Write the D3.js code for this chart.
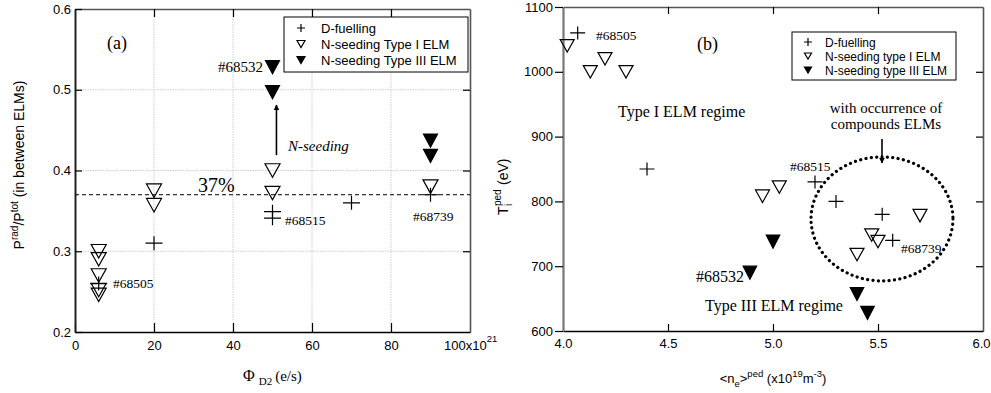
<!DOCTYPE html>
<html><head><meta charset="utf-8">
<script src="https://cdn.jsdelivr.net/npm/d3@7"></script>
<style>body{margin:0;background:#fff}svg{display:block}</style>
</head><body>
<svg id="c" width="991" height="393"></svg>
<script>
// ---- Panel (a): radiated power fraction vs. D2 fuelling rate ----
const aFuelX  = [6, 20, 50, 50, 70, 90];
const aFuelY  = [0.26, 0.31, 0.349, 0.341, 0.36, 0.37];
const aType1X = [6, 6, 6, 6, 6, 20, 20, 50, 50, 90];
const aType1Y = [0.30, 0.29, 0.27, 0.252, 0.246, 0.375, 0.357, 0.40, 0.372, 0.38];
const aType3X = [50, 50, 90, 90];
const aType3Y = [0.528, 0.497, 0.437, 0.418];
const aXTicks = [0, 20, 40, 60, 80];
const aYTicks = [0.2, 0.3, 0.4, 0.5, 0.6];
const aRef = 0.37;

// ---- Panel (b): pedestal ion temperature vs. pedestal density ----
const bFuelX  = [4.07, 4.4, 5.2, 5.3, 5.52, 5.57];
const bFuelY  = [1060, 850, 830, 800, 780, 740];
const bType1X = [4.02, 4.13, 4.2, 4.3, 4.95, 5.03, 5.4, 5.47, 5.5, 5.7];
const bType1Y = [1040, 1000, 1020, 1000, 808, 822, 718, 748, 738, 778];
const bType3X = [4.89, 5.0, 5.4, 5.45];
const bType3Y = [690, 738, 657, 628];
const bXTicks = [4.0, 4.5, 5.0, 5.5, 6.0];
const bYTicks = [600, 700, 800, 900, 1000, 1100];

const svg = d3.select("#c");
const SANS = "'Liberation Sans', Arial, sans-serif";
const SERIF = "'Liberation Serif', 'Times New Roman', serif";

function plus(g, x, y, hw, hh) {
  g.append("path").attr("d", `M${x-hw},${y}H${x+hw}M${x},${y-hh}V${y+hh}`)
    .attr("stroke", "#000").attr("stroke-width", 1.2).attr("fill", "none");
}
function tri(g, x, y, w, h, filled) {
  g.append("path").attr("d", `M${x-w/2},${y-h/2}L${x+w/2},${y-h/2}L${x},${y+h/2}Z`)
    .attr("stroke", "#000").attr("stroke-width", 1.2)
    .attr("fill", filled ? "#000" : "none").attr("stroke-linejoin", "miter");
}
function styleAxis(g, color, width, fontSize) {
  g.selectAll("path.domain").attr("stroke", color).attr("stroke-width", width);
  g.selectAll(".tick line").attr("stroke", "#000").attr("stroke-width", 1.2);
  g.selectAll("text").attr("font-family", SANS).attr("font-size", fontSize).attr("fill", "#000");
}

// ================= Panel (a) =================
const xA = d3.scaleLinear().domain([0, 100]).range([75, 470]);
const yA = d3.scaleLinear().domain([0.2, 0.6]).range([332, 9]);
const gA = svg.append("g");

// grid
gA.append("g").selectAll("line").data([20, 40, 60, 80]).join("line")
  .attr("x1", d => xA(d)).attr("x2", d => xA(d)).attr("y1", yA(0.6)).attr("y2", yA(0.2))
  .attr("stroke", "#cfcfcf").attr("stroke-width", 1).attr("stroke-dasharray", "1.5,1");
gA.append("g").selectAll("line").data([0.3, 0.4, 0.5]).join("line")
  .attr("y1", d => yA(d)).attr("y2", d => yA(d)).attr("x1", xA(0)).attr("x2", xA(100))
  .attr("stroke", "#cfcfcf").attr("stroke-width", 1).attr("stroke-dasharray", "1.5,1");

// frame (top / right) with inward ticks
const aTop = gA.append("g").attr("transform", `translate(0,${yA(0.6)})`)
  .call(d3.axisTop(xA).tickValues([20, 40, 60, 80]).tickSize(-8).tickSizeOuter(0).tickFormat(""));
styleAxis(aTop, "#555", 1.6, 13);
const aRight = gA.append("g").attr("transform", `translate(${xA(100)},0)`)
  .call(d3.axisRight(yA).tickValues([0.3, 0.4, 0.5]).tickSize(-7).tickSizeOuter(0).tickFormat(""));
styleAxis(aRight, "#555", 1.6, 13);

// bottom / left axes
const aBottom = gA.append("g").attr("transform", `translate(0,${yA(0.2)})`)
  .call(d3.axisBottom(xA).tickValues(aXTicks).tickSize(-9).tickSizeOuter(0).tickPadding(9).tickFormat(d => d));
styleAxis(aBottom, "#000", 1.6, 13);
const aLeft = gA.append("g").attr("transform", `translate(${xA(0)},0)`)
  .call(d3.axisLeft(yA).tickValues(aYTicks).tickSize(-7).tickSizeOuter(0).tickPadding(4).tickFormat(d3.format(".1f")));
styleAxis(aLeft, "#222", 2, 13);

// last x tick label with exponent
const t100 = gA.append("text").attr("x", xA(100) - 26).attr("y", 350)
  .attr("font-family", SANS).attr("font-size", 13);
t100.append("tspan").text("100x10");
t100.append("tspan").attr("dy", -8).attr("font-size", 9.5).text("21");

// reference line at 37%
gA.append("line").attr("x1", xA(0)).attr("x2", xA(100)).attr("y1", yA(aRef)).attr("y2", yA(aRef))
  .attr("stroke", "#000").attr("stroke-width", 1).attr("stroke-dasharray", "4,3");
gA.append("text").attr("x", 198).attr("y", 192).attr("font-family", SERIF).attr("font-size", 20).text("37%");

// markers
aFuelX.forEach((x, i) => plus(gA, xA(x), yA(aFuelY[i]), 8.5, 7));
aType1X.forEach((x, i) => tri(gA, xA(x), yA(aType1Y[i]), 15, 13.5, false));
aType3X.forEach((x, i) => tri(gA, xA(x), yA(aType3Y[i]), 14, 13, true));

// N-seeding arrow
const defs = svg.append("defs");
defs.append("marker").attr("id", "ah").attr("viewBox", "0 0 10 10").attr("refX", 9).attr("refY", 5)
  .attr("markerWidth", 6).attr("markerHeight", 6).attr("orient", "auto-start-reverse")
  .attr("markerUnits", "userSpaceOnUse")
  .append("path").attr("d", "M0,0L10,5L0,10Z").attr("fill", "#000");
gA.append("line").attr("x1", xA(51)).attr("x2", xA(51)).attr("y1", yA(0.419)).attr("y2", yA(0.481))
  .attr("stroke", "#000").attr("stroke-width", 1.6).attr("marker-end", "url(#ah)");
gA.append("text").attr("x", 288).attr("y", 151).attr("font-family", SERIF).attr("font-style", "italic")
  .attr("font-size", 15).text("N-seeding");

// annotations
gA.append("text").attr("x", 107).attr("y", 49).attr("font-family", SERIF).attr("font-size", 18).text("(a)");
gA.append("text").attr("x", 263).attr("y", 72).attr("text-anchor", "end").attr("font-family", SERIF).attr("font-size", 15).text("#68532");
gA.append("text").attr("x", 113).attr("y", 288).attr("font-family", SERIF).attr("font-size", 13.5).text("#68505");
gA.append("text").attr("x", 285).attr("y", 225).attr("font-family", SERIF).attr("font-size", 13.5).text("#68515");
gA.append("text").attr("x", 413).attr("y", 221).attr("font-family", SERIF).attr("font-size", 13.5).text("#68739");

// legend (a)
gA.append("rect").attr("x", 284).attr("y", 17).attr("width", 184).attr("height", 55)
  .attr("fill", "#fff").attr("stroke", "#000").attr("stroke-width", 1);
plus(gA, 301, 28, 4, 4);
tri(gA, 301, 44, 8, 7, false);
tri(gA, 301, 60, 8, 7, true);
[["D-fuelling", 28], ["N-seeding Type I ELM", 44], ["N-seeding Type III ELM", 60]].forEach(([t, y]) =>
  gA.append("text").attr("x", 321).attr("y", y + 4.5).attr("font-family", SANS).attr("font-size", 13).text(t));

// axis titles (a)
const yTa = gA.append("text").attr("transform", "translate(24,165) rotate(-90)")
  .attr("text-anchor", "middle").attr("font-family", SANS).attr("font-size", 14);
yTa.append("tspan").text("P");
yTa.append("tspan").attr("dy", -6).attr("font-size", 10).text("rad");
yTa.append("tspan").attr("dy", 6).text("/P");
yTa.append("tspan").attr("dy", -6).attr("font-size", 10).text("tot");
yTa.append("tspan").attr("dy", 6).text(" (in between ELMs)");

const xTa = gA.append("text").attr("x", 243).attr("y", 381).attr("font-family", SERIF).attr("font-size", 15);
xTa.append("tspan").attr("font-size", 16).text("Φ");
xTa.append("tspan").attr("dx", 4).attr("dy", 4).attr("font-size", 11).text("D2");
xTa.append("tspan").attr("dx", 3).attr("dy", -4).text("(e/s)");

// ================= Panel (b) =================
const xB = d3.scaleLinear().domain([4, 6]).range([563, 983]);
const yB = d3.scaleLinear().domain([600, 1100]).range([331, 7]);
const gB = svg.append("g");

const bTop = gB.append("g").attr("transform", `translate(0,${yB(1100)})`)
  .call(d3.axisTop(xB).tickValues([4.5, 5.0, 5.5]).tickSize(-7).tickSizeOuter(0).tickFormat(""));
styleAxis(bTop, "#555", 1.6, 13);
const bRight = gB.append("g").attr("transform", `translate(${xB(6)},0)`)
  .call(d3.axisRight(yB).tickValues([700, 800, 900, 1000]).tickSize(-7).tickSizeOuter(0).tickFormat(""));
styleAxis(bRight, "#555", 1.6, 13);
const bBottom = gB.append("g").attr("transform", `translate(0,${yB(600)})`)
  .call(d3.axisBottom(xB).tickValues(bXTicks).tickSize(-7).tickSizeOuter(0).tickPadding(8).tickFormat(d3.format(".1f")));
styleAxis(bBottom, "#000", 1.6, 13);
bBottom.selectAll(".tick").filter(d => d === 4 || d === 6).select("line").remove();
// keep the last label inside the canvas
bBottom.selectAll(".tick").filter(d => d === 6).select("text").attr("text-anchor", "end").attr("x", 7);
const bLeft = gB.append("g").attr("transform", `translate(${xB(4)},0)`)
  .call(d3.axisLeft(yB).tickValues(bYTicks).tickSize(8).tickSizeOuter(0).tickPadding(2).tickFormat(d => d));
styleAxis(bLeft, "#777", 2.2, 13);

// markers
bFuelX.forEach((x, i) => plus(gB, xB(x), yB(bFuelY[i]), 7.5, 6.5));
bType1X.forEach((x, i) => tri(gB, xB(x), yB(bType1Y[i]), 14, 12.5, false));
bType3X.forEach((x, i) => tri(gB, xB(x), yB(bType3Y[i]), 13.5, 13, true));

// compound-ELM region
const ell = { cx: 5.519, cy: 773, rx: 0.338, ry: 95.7 };
gB.append("ellipse").attr("cx", xB(ell.cx)).attr("cy", yB(ell.cy))
  .attr("rx", xB(4 + ell.rx) - xB(4)).attr("ry", yB(1100 - ell.ry) - yB(1100))
  .attr("fill", "none").attr("stroke", "#000").attr("stroke-width", 3.2)
  .attr("stroke-linecap", "round").attr("stroke-dasharray", "0.1,5.3");
gB.append("line").attr("x1", xB(ell.cx)).attr("x2", xB(ell.cx)).attr("y1", 139).attr("y2", 163)
  .attr("stroke", "#000").attr("stroke-width", 1.6).attr("marker-end", "url(#ah)");
gB.append("text").attr("x", 886).attr("y", 113).attr("text-anchor", "middle").attr("font-family", SERIF).attr("font-size", 15).text("with occurrence of");
gB.append("text").attr("x", 886).attr("y", 129).attr("text-anchor", "middle").attr("font-family", SERIF).attr("font-size", 15).text("compounds ELMs");

// annotations
gB.append("text").attr("x", 697).attr("y", 50).attr("font-family", SERIF).attr("font-size", 18).text("(b)");
gB.append("text").attr("x", 596).attr("y", 40).attr("font-family", SERIF).attr("font-size", 13.5).text("#68505");
gB.append("text").attr("x", 618).attr("y", 117).attr("font-family", SERIF).attr("font-size", 16).text("Type I ELM regime");
gB.append("text").attr("x", 790).attr("y", 171).attr("font-family", SERIF).attr("font-size", 13.5).text("#68515");
gB.append("text").attr("x", 744).attr("y", 282).attr("text-anchor", "end").attr("font-family", SERIF).attr("font-size", 16).text("#68532");
gB.append("text").attr("x", 705).attr("y", 311).attr("font-family", SERIF).attr("font-size", 16).text("Type III ELM regime");
gB.append("text").attr("x", 901).attr("y", 253).attr("font-family", SERIF).attr("font-size", 13.5).text("#68739");

// legend (b)
gB.append("rect").attr("x", 792).attr("y", 32).attr("width", 164).attr("height", 48)
  .attr("fill", "#fff").attr("stroke", "#000").attr("stroke-width", 1);
plus(gB, 808, 42, 4, 4);
tri(gB, 808, 56, 7, 6, false);
tri(gB, 808, 70, 7, 6, true);
[["D-fuelling", 42], ["N-seeding type I ELM", 56], ["N-seeding type III ELM", 70]].forEach(([t, y]) =>
  gB.append("text").attr("x", 825).attr("y", y + 4.5).attr("font-family", SANS).attr("font-size", 12).text(t));

// axis titles (b)
const yTb = gB.append("g").attr("transform", "translate(508,185) rotate(-90)")
  .attr("font-family", SANS);
yTb.append("text").attr("x", -30).attr("y", 0).attr("font-size", 14).text("T");
yTb.append("text").attr("x", -21).attr("y", -7).attr("font-size", 10).text("ped");
yTb.append("text").attr("x", -21).attr("y", 4).attr("font-size", 10).text("i");
yTb.append("text").attr("x", 0).attr("y", 0).attr("font-size", 14).text("(eV)");

const xTb = gB.append("text").attr("x", 773).attr("y", 383).attr("text-anchor", "middle")
  .attr("font-family", SANS).attr("font-size", 13);
xTb.append("tspan").text("<n");
xTb.append("tspan").attr("dy", 4).attr("font-size", 9.5).text("e");
xTb.append("tspan").attr("dy", -4).text(">");
xTb.append("tspan").attr("dy", -6).attr("font-size", 9.5).text("ped");
xTb.append("tspan").attr("dy", 6).text(" (x10");
xTb.append("tspan").attr("dy", -6).attr("font-size", 9.5).text("19");
xTb.append("tspan").attr("dy", 6).text("m");
xTb.append("tspan").attr("dy", -6).attr("font-size", 9.5).text("-3");
xTb.append("tspan").attr("dy", 6).text(")");
</script>
</body></html>
